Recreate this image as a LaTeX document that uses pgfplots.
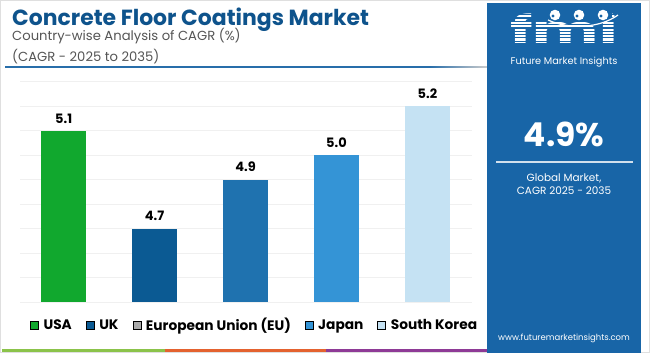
\documentclass[border=0pt]{standalone}
\usepackage{pgfplots}
\pgfplotsset{compat=1.18}
\usepackage{fontspec}
\setmainfont{Poppins}
\definecolor{titleblue}{RGB}{14,83,140}
\definecolor{subgray}{RGB}{85,85,85}
\definecolor{lineblue}{RGB}{40,110,170}
\definecolor{panel}{RGB}{24,101,167}
\definecolor{cusa}{RGB}{17,168,46}
\definecolor{cuk}{RGB}{11,90,147}
\definecolor{ceu}{RGB}{31,114,175}
\definecolor{cjp}{RGB}{52,148,214}
\definecolor{csk}{RGB}{197,226,243}
\definecolor{legeu}{RGB}{170,170,170}
\definecolor{fgreen}{RGB}{139,195,74}
\definecolor{forange}{RGB}{228,98,47}
\definecolor{fpurple}{RGB}{142,58,150}
\begin{document}
\begin{tikzpicture}[x=1bp,y=1bp]
\fill[white] (0,0) rectangle (650,353);
\useasboundingbox (0,0) rectangle (650,353);
\draw[gray!25, line width=1bp] (0.5,0.5) rectangle (649.5,352.5);
% titles
\node[anchor=base west, inner sep=0, text=titleblue, font=\bfseries\fontsize{22}{26}\selectfont] at (12,328) {Concrete Floor Coatings Market};
\node[anchor=base west, inner sep=0, text=subgray, font=\fontsize{13.2}{15}\selectfont] at (12,312.5) {Country-wise Analysis of CAGR (\%)};
\node[anchor=base west, inner sep=0, text=subgray, font=\fontsize{13.2}{15}\selectfont] at (12,292) {(CAGR - 2025 to 2035)};
\fill[lineblue] (5,285.3) rectangle (430,286.8);
\shade[left color=lineblue, right color=gray!40] (430,285.3) rectangle (487,286.8);
% panel
\fill[panel] (487,0) rectangle (641,350);
\begin{scope}
\clip (505,308) rectangle (625,342);
\node[anchor=base, inner sep=0, text=white, font=\bfseries\fontsize{19}{19}\selectfont, xscale=3.3, yscale=2] at (564,310) {fmi};
\foreach \yy in {308,311.3,...,342} {\fill[panel] (500,\yy) rectangle (630,\yy+1.1);}
\end{scope}
\fill[panel] (548,331) rectangle (612,346);
\foreach \xx in {555,579,603} {\fill[white] (\xx,338) circle (5.3); \fill[panel] (\xx-2,337) circle (1.6);}
\draw[white, line width=1.2bp] (548,333) .. controls (570,323) and (600,325) .. (618,338);
\node[anchor=base, inner sep=0, text=white, font=\fontsize{9.8}{11}\selectfont] at (564,288.5) {Future Market Insights};
\node[anchor=base, inner sep=0, text=white, font=\bfseries\fontsize{33}{36}\selectfont] at (564,207) {4.9\%};
\fill[white!80!panel] (496,190.3) rectangle (633,191.8);
\node[anchor=base, inner sep=0, text=white, font=\fontsize{10.5}{13}\selectfont] at (564,172) {Global Market,};
\node[anchor=base, inner sep=0, text=white, font=\fontsize{10.5}{13}\selectfont] at (564,159) {CAGR 2025 - 2035};
\node[anchor=base, inner sep=0, text=white, font=\fontsize{8.5}{10}\selectfont] at (564,13) {www.futuremarketinsights.com};
% footer strip
\fill[fgreen] (2,1) rectangle (165,4);
\fill[forange] (165,1) rectangle (326,4);
\fill[fpurple] (326,1) rectangle (487,4);
\begin{axis}[
  at={(20bp,51bp)}, anchor=south west,
  scale only axis, width=452bp, height=220.3bp,
  xmin=-0.48, xmax=4.49, ymin=4.4, ymax=5.3,
  axis line style={draw=none},
  major tick length=0pt,
  xtick=\empty,
  ytick={4.4,4.5,4.6,4.7,4.8,4.9,5.0,5.1,5.2,5.3},
  yticklabels={},
  ymajorgrids, grid style={color=gray!12, line width=0.8bp},
  /pgf/number format/.cd, fixed, fixed zerofill, precision=1, assume math mode=true, /tikz/.cd,
  nodes near coords,
  nodes near coords style={font=\bfseries\fontsize{13}{15}\selectfont, text=black, yshift=4bp},
  legend columns=5,
  legend style={draw=none, fill=none, inner sep=0pt, at={([xshift=10bp,yshift=-23bp]rel axis cs:0,0)}, anchor=west,
    font=\bfseries\fontsize{13.8}{16}\selectfont, nodes={inner sep=0pt, text=black},
    /tikz/every even column/.append style={column sep=14bp},
    /tikz/every odd column/.append style={column sep=5bp}},
  legend image code/.code={\fill[#1] (0bp,-4bp) rectangle (8bp,4bp);},
]
\addplot[ybar, bar width=45bp, bar shift=0pt, fill=cusa, draw=none, forget plot] coordinates {(0,5.1)};
\addplot[ybar, bar width=45bp, bar shift=0pt, fill=cuk, draw=none, forget plot] coordinates {(1,4.7)};
\addplot[ybar, bar width=45bp, bar shift=0pt, fill=ceu, draw=none, forget plot] coordinates {(2,4.9)};
\addplot[ybar, bar width=45bp, bar shift=0pt, fill=cjp, draw=none, forget plot] coordinates {(3,5.0)};
\addplot[ybar, bar width=45bp, bar shift=0pt, fill=csk, draw=none, forget plot] coordinates {(4,5.2)};
\addlegendimage{fill=cusa}
\addlegendimage{fill=cuk}
\addlegendimage{fill=legeu}
\addlegendimage{fill=cjp}
\addlegendimage{fill=csk}
\legend{USA, UK, European Union (EU), Japan, South Korea}
\end{axis}
\end{tikzpicture}
\end{document}
